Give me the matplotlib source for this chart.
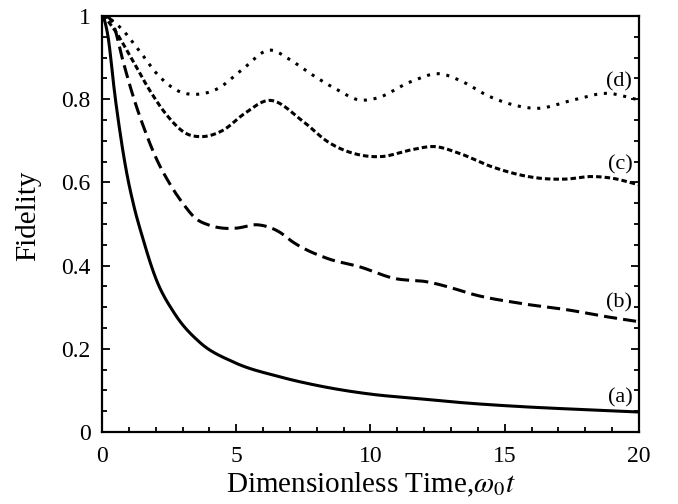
import matplotlib
matplotlib.use('Agg')
import matplotlib.pyplot as plt
from matplotlib.ticker import MultipleLocator
import numpy as np

plt.rcParams['font.family'] = ['Liberation Serif', 'DejaVu Serif']
plt.rcParams['mathtext.fontset'] = 'stix'

# --- data ---
t_a = [0, 0.2, 0.5, 0.9, 1.2, 1.5, 2.0, 2.7, 3.65, 4.9, 6.6, 8.0, 10.0, 11.8, 13.5, 15.6, 17.5, 20.0]
f_a = [1.0, 0.96, 0.80, 0.63, 0.54, 0.47, 0.37, 0.285, 0.215, 0.168, 0.133, 0.112, 0.091, 0.080, 0.070, 0.061, 0.055, 0.048]

t_b = [0, 0.42, 0.79, 1.17, 1.54, 2.04, 2.53, 3.03, 3.46, 4.0, 4.5, 5.0, 5.8, 6.6, 7.1, 8.4, 9.6, 10.9, 12.1, 13.3, 13.7, 15.6, 17.4, 18.8, 20.0]
f_b = [1.0, 0.98, 0.89, 0.805, 0.735, 0.655, 0.596, 0.548, 0.515, 0.497, 0.49, 0.49, 0.498, 0.481, 0.457, 0.417, 0.397, 0.369, 0.361, 0.341, 0.333, 0.309, 0.293, 0.277, 0.265]

t_c = [0, 0.37, 1.04, 1.79, 2.41, 3.15, 3.7, 4.5, 5.3, 6.2, 7.5, 8.4, 9.6, 10.4, 11.5, 12.4, 13.3, 14.5, 16.3, 17.3, 18.2, 19.0, 20.0]
f_c = [1.0, 0.975, 0.905, 0.82, 0.762, 0.717, 0.71, 0.725, 0.765, 0.797, 0.746, 0.698, 0.666, 0.662, 0.678, 0.686, 0.670, 0.638, 0.610, 0.608, 0.614, 0.610, 0.594]

t_d = [0, 0.67, 1.29, 2.16, 2.9, 3.6, 4.3, 5.2, 6.26, 7.0, 7.75, 8.7, 9.6, 10.2, 11.5, 12.6, 13.3, 14.45, 15.4, 16.2, 17.55, 18.8, 20.0]
f_d = [1.0, 0.973, 0.925, 0.853, 0.818, 0.812, 0.825, 0.87, 0.918, 0.895, 0.862, 0.825, 0.798, 0.802, 0.842, 0.861, 0.846, 0.806, 0.785, 0.778, 0.798, 0.814, 0.798]

curve_labels = ['(a)', '(b)', '(c)', '(d)']
label_y = [0.082, 0.31, 0.642, 0.842]

y_ticks = [0, 0.2, 0.4, 0.6, 0.8, 1.0]
y_tick_labels = ['0', '0.2', '0.4', '0.6', '0.8', '1']
x_ticks = [0, 5, 10, 15, 20]


def smooth(t, f, n=500):
    # cubic Hermite through the read points
    t = np.asarray(t, float)
    f = np.asarray(f, float)
    m = np.gradient(f, t)
    m[0] = 0.0  # fidelity leaves 1 flat
    tt = np.linspace(t[0], t[-1], n)
    out = np.empty_like(tt)
    for k, x in enumerate(tt):
        i = min(np.searchsorted(t, x, side='right') - 1, len(t) - 2)
        h = t[i + 1] - t[i]
        s = (x - t[i]) / h
        h00 = 2 * s**3 - 3 * s**2 + 1
        h10 = s**3 - 2 * s**2 + s
        h01 = -2 * s**3 + 3 * s**2
        h11 = s**3 - s**2
        out[k] = h00 * f[i] + h10 * h * m[i] + h01 * f[i + 1] + h11 * h * m[i + 1]
    return tt, np.minimum(out, 1.0)


fig = plt.figure(figsize=(6.78, 5.04), dpi=100)
ax = fig.add_axes([0.1504, 0.1429, 0.7921, 0.8254])

lw = 2.2
x, y = smooth(t_a, f_a)
ax.plot(x, y, color='black', lw=lw, linestyle='-')
x, y = smooth(t_b, f_b)
ax.plot(x, y, color='black', lw=lw, linestyle=(0, (4.3, 2.0)), dash_capstyle='butt')
x, y = smooth(t_c, f_c)
ax.plot(x, y, color='black', lw=lw, linestyle=(0, (1.8, 1.0)), dash_capstyle='butt')
x, y = smooth(t_d, f_d)
ax.plot(x, y, color='black', lw=lw, linestyle=(0, (1.0, 2.2)), dash_capstyle='butt')

for lab, yy in zip(curve_labels, label_y):
    ax.text(19.75, yy, lab, ha='right', va='center', fontsize=16)

ax.set_xlim(0, 20)
ax.set_ylim(0, 1)
ax.set_xticks(x_ticks)
ax.set_yticks(y_ticks)
ax.set_yticklabels(y_tick_labels)
ax.xaxis.set_minor_locator(MultipleLocator(1))
ax.yaxis.set_minor_locator(MultipleLocator(0.05))
ax.tick_params(which='both', direction='in', right=True, top=False, width=1.3)
ax.tick_params(which='major', length=6, labelsize=17)
ax.tick_params(which='minor', length=3.5)
ax.tick_params(axis='x', pad=10)
ax.tick_params(axis='y', pad=8)
for sp in ax.spines.values():
    sp.set_linewidth(1.6)

ax.set_xlabel('Dimensionless Time,$\\omega_0t$', fontsize=21, labelpad=3)
ax.set_ylabel('Fidelity', fontsize=21)
ax.yaxis.set_label_coords(-0.113, 0.52)

fig.savefig('out.png', dpi=100)
